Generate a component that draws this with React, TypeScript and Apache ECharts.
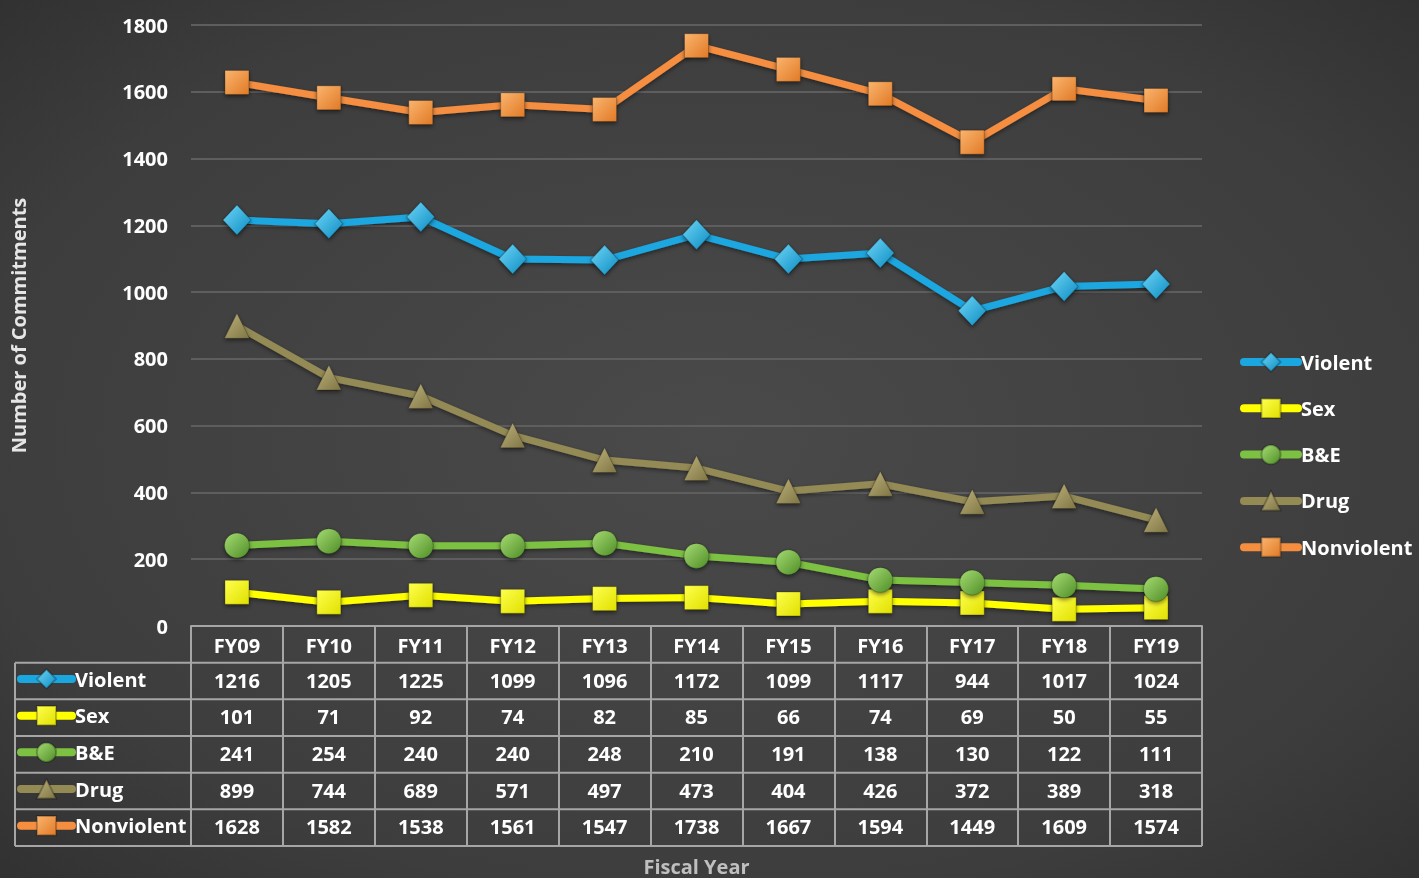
import React, { useEffect, useRef } from "react";
import * as echarts from "echarts";

const CATEGORIES = ["FY09", "FY10", "FY11", "FY12", "FY13", "FY14", "FY15", "FY16", "FY17", "FY18", "FY19"];
const SERIES_NAMES = ["Violent", "Sex", "B&E", "Drug", "Nonviolent"];
const VIOLENT = [1216, 1205, 1225, 1099, 1096, 1172, 1099, 1117, 944, 1017, 1024];
const SEX = [101, 71, 92, 74, 82, 85, 66, 74, 69, 50, 55];
const BE = [241, 254, 240, 240, 248, 210, 191, 138, 130, 122, 111];
const DRUG = [899, 744, 689, 571, 497, 473, 404, 426, 372, 389, 318];
const NONVIOLENT = [1628, 1582, 1538, 1561, 1547, 1738, 1667, 1594, 1449, 1609, 1574];
const Y_MIN = 0;
const Y_MAX = 1800;
const Y_INTERVAL = 200;

const W = 1419;
const H = 878;
const GRID_LEFT = 191;
const GRID_RIGHT_X = 1202;
const GRID_TOP = 25;
const AXIS_Y = 626;
const TABLE_BOTTOM = 846;
const ROW_H = (TABLE_BOTTOM - AXIS_Y) / 6;
const TABLE_LEFT = 15;
const FONT = '"Open Sans", "Noto Sans", sans-serif';
const BORDER = "#a6a6a6";

const grad = (c1: string, c2: string) =>
  new echarts.graphic.LinearGradient(0, 0, 1, 1, [
    { offset: 0, color: c1 },
    { offset: 1, color: c2 },
  ]);

const STYLES = [
  { line: "#1aa7e0", symbol: "diamond", size: [28, 30], fill: grad("#6fd6f7", "#0b8cc2") },
  { line: "#ffff00", symbol: "rect", size: 24, fill: grad("#ffff4d", "#e0e000") },
  { line: "#7cc142", symbol: "circle", size: 25, fill: grad("#a6dc73", "#4f8d27") },
  { line: "#948a54", symbol: "triangle", size: 25, fill: grad("#bdb27a", "#7f7545") },
  { line: "#f58e3f", symbol: "rect", size: 24, fill: grad("#fbb46e", "#e07a26") },
];

export default function App() {
  const ref = useRef<HTMLDivElement>(null);
  useEffect(() => {
    if (!ref.current) return;
    const chart = echarts.init(ref.current, undefined, { renderer: "svg" });
    const values = [VIOLENT, SEX, BE, DRUG, NONVIOLENT];

    const textStyle = { color: "#ffffff", fontFamily: FONT, fontWeight: "bold" as const, fontSize: 20 };

    const xAxes: any[] = [
      {
        type: "category",
        data: CATEGORIES,
        position: "bottom",
        axisLine: { show: true, lineStyle: { color: BORDER, width: 2 } },
        axisTick: { show: true, interval: 0, length: TABLE_BOTTOM - AXIS_Y, lineStyle: { color: BORDER, width: 2 } },
        axisLabel: { ...textStyle, margin: 9, lineHeight: 20, interval: 0 },
        splitLine: { show: false },
      },
    ];
    values.forEach((vals, k) => {
      xAxes.push({
        type: "category",
        data: CATEGORIES,
        position: "bottom",
        offset: ROW_H * (k + 1) - 1.5,
        axisLine: { show: false },
        axisTick: { show: false },
        splitLine: { show: false },
        axisLabel: {
          ...textStyle,
          margin: 9,
          lineHeight: 20,
          interval: 0,
          formatter: (_v: string, idx: number) => String(vals[idx]),
        },
      });
    });

    const lines: any[] = [];
    for (let k = 1; k <= 6; k++) {
      const y = AXIS_Y + ROW_H * k;
      lines.push({
        type: "line",
        shape: { x1: TABLE_LEFT, y1: y, x2: GRID_RIGHT_X, y2: y },
        style: { stroke: BORDER, lineWidth: 2 },
        silent: true,
      });
    }
    lines.push({
      type: "line",
      shape: { x1: TABLE_LEFT, y1: AXIS_Y + ROW_H, x2: TABLE_LEFT, y2: TABLE_BOTTOM },
      style: { stroke: BORDER, lineWidth: 2 },
      silent: true,
    });
    lines.push({
      type: "text",
      x: (GRID_LEFT + GRID_RIGHT_X) / 2,
      y: 866,
      style: {
        text: "Fiscal Year",
        fill: "#bfbfbf",
        font: `bold 20px ${FONT}`,
        align: "center",
        verticalAlign: "middle",
      },
      silent: true,
    });

    const legendBase = {
      orient: "vertical" as const,
      data: SERIES_NAMES,
      itemWidth: 54,
      itemHeight: 24,
      selectedMode: false,
      textStyle: { ...textStyle, lineHeight: 22, padding: [0, 0, 0, -2] },
      lineStyle: { width: 8, cap: "round" },
      padding: 0,
    };

    chart.setOption({
      animation: false,
      backgroundColor: {
        type: "radial",
        x: 0.5,
        y: 0.5,
        r: 0.95,
        colorStops: [
          { offset: 0, color: "#4a4a4a" },
          { offset: 0.55, color: "#3d3d3d" },
          { offset: 1, color: "#222222" },
        ],
      },
      grid: {
        left: GRID_LEFT,
        right: W - GRID_RIGHT_X,
        top: GRID_TOP,
        bottom: H - AXIS_Y,
        containLabel: false,
        outerBoundsMode: "none",
      },
      legend: [
        { ...legendBase, left: 1240, top: 362 - 11, itemGap: 24.3 },
        {
          ...legendBase,
          left: TABLE_LEFT + 2,
          itemWidth: 51,
          top: AXIS_Y + ROW_H * 1.5 - 13,
          itemGap: ROW_H - 22,
        },
      ],
      xAxis: xAxes,
      yAxis: {
        type: "value",
        min: Y_MIN,
        max: Y_MAX,
        interval: Y_INTERVAL,
        name: "Number of Commitments",
        nameLocation: "middle",
        nameRotate: 90,
        nameGap: GRID_LEFT - 28,
        nameTextStyle: { color: "#e6e6e6", fontFamily: FONT, fontWeight: "bold", fontSize: 20 },
        axisLine: { show: false },
        axisTick: { show: false },
        axisLabel: { ...textStyle, margin: 23, formatter: (v: number) => String(v) },
        splitLine: { show: true, lineStyle: { color: "#5e5e5e", width: 2 } },
      },
      series: SERIES_NAMES.map((name, i) => ({
        name,
        type: "line",
        xAxisIndex: 0,
        data: values[i],
        symbol: STYLES[i].symbol,
        symbolSize: STYLES[i].size,
        lineStyle: {
          color: STYLES[i].line,
          width: 7,
          shadowBlur: 4,
          shadowColor: "rgba(0,0,0,0.45)",
          shadowOffsetY: 2,
        },
        itemStyle: {
          color: STYLES[i].fill,
          borderColor: "rgba(0,0,0,0.25)",
          borderWidth: 1,
          shadowBlur: 4,
          shadowColor: "rgba(0,0,0,0.5)",
          shadowOffsetY: 2,
        },
        emphasis: { disabled: true },
      })),
      graphic: lines,
    });
    return () => chart.dispose();
  }, []);
  return <div ref={ref} style={{ position: "fixed", left: 0, top: 0, width: W, height: H }} />;
}
